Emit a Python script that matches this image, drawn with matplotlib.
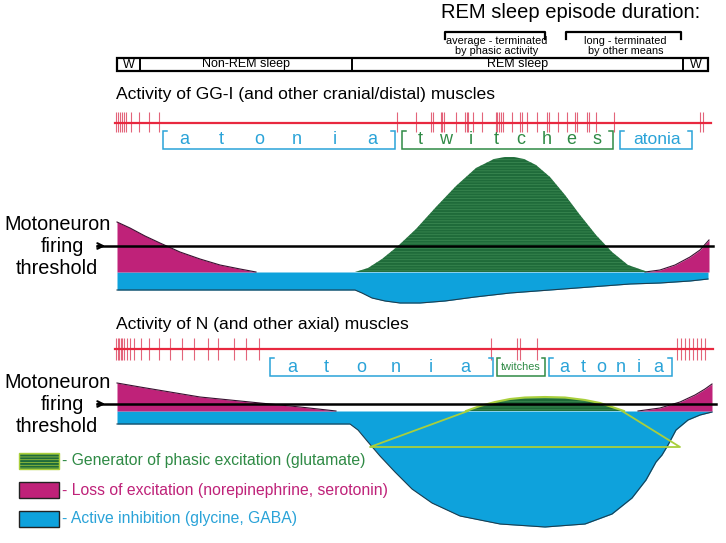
import matplotlib
matplotlib.use("Agg")
import matplotlib.pyplot as plt
from matplotlib import font_manager
import numpy as np

# ---- fonts ----
names = {f.name for f in font_manager.fontManager.ttflist}
NARROW = "Liberation Sans Narrow" if "Liberation Sans Narrow" in names else "Liberation Sans"
plt.rcParams['font.family'] = [NARROW, 'DejaVu Sans']
plt.rcParams['hatch.linewidth'] = 0.5

# ---- colours ----
RED = '#e8283f'
SPIKE = '#e3647a'
MAG = '#bf2279'
BLUE = '#0ea2dc'
GREEN = '#1f6b3a'
GREEN_TXT = '#2f8a45'
LIME = '#a9cf3c'
LABEL_BLUE = '#2aa3d8'

# ---- data (schematic, image pixel units) ----
stage_names = ['W', 'Non-REM sleep', 'REM sleep', 'W']
stage_edges = [117, 140, 352, 683, 708]

gg_spikes = [116, 118, 120, 122, 124, 126, 131, 139, 149, 159,
             397, 416, 431, 433, 441, 442, 444, 456, 465, 467, 468, 473, 482,
             496, 497, 499, 501, 503, 512, 520, 522, 527, 537, 547, 549, 558,
             567, 575, 577, 587, 589, 596, 614, 700, 703]
n_spikes = [116, 117.5, 119, 120.5, 122, 124, 127, 130, 134, 141, 149, 159,
            170, 182, 194, 208, 218, 234, 246, 259,
            491, 517, 520, 537,
            677, 681, 685, 689, 693, 697, 701, 705]

# GG-I curves
gg_mag_left_x = [117, 130, 145, 160, 180, 200, 220, 240, 256]
gg_mag_left_y = [222, 228, 236, 243, 252, 259, 265, 269, 272]
gg_mag_right_x = [645, 660, 675, 690, 700, 709]
gg_mag_right_y = [272, 270, 265, 257, 250, 240]
gg_green_x = [355, 368, 382, 398, 416, 436, 456, 476, 494, 505, 514, 524,
              536, 550, 565, 580, 596, 612, 628, 648]
gg_green_y = [272, 268, 259, 246, 229, 207, 186, 168, 159, 157, 157, 159,
              165, 177, 195, 215, 235, 252, 265, 272]
gg_blue_bot_x = [117, 355, 362, 372, 385, 400, 420, 445, 475, 510, 550, 590,
                 630, 660, 690, 708]
gg_blue_bot_y = [290, 290, 293, 298, 301, 303, 303, 301, 297, 293, 290, 287,
                 284, 283, 281, 279]

# N curves
n_mag_left_x = [117, 140, 170, 200, 230, 270, 300, 336]
n_mag_left_y = [383, 387, 392, 397, 400, 404, 407, 411]
n_mag_right_x = [638, 660, 680, 695, 705, 712]
n_mag_right_y = [411, 408, 402, 395, 389, 384]
n_green_x = [466, 480, 495, 510, 525, 545, 565, 585, 600, 612, 624]
n_green_y = [411, 406, 402, 399, 397.5, 397, 397.5, 400, 403, 407, 411]
n_blue_bot_x = [117, 350, 358, 368, 380, 395, 412, 432, 460, 500, 545, 585,
                612, 632, 646, 656, 662, 668, 676, 688, 700, 712]
n_blue_bot_y = [424, 424, 430, 442, 456, 472, 489, 503, 516, 524, 527, 524,
                514, 498, 480, 462, 455, 445, 430, 420, 415, 412]
tri_x = [468, 370, 680, 622]
tri_y = [411, 447, 447, 411]

legend_labels = ['- Generator of phasic excitation (glutamate)',
                 '- Loss of excitation (norepinephrine, serotonin)',
                 '- Active inhibition (glycine, GABA)']

# ---- figure ----
fig = plt.figure(figsize=(7.26, 5.43), dpi=100)
ax = fig.add_axes([0, 0, 1, 1])
ax.set_xlim(0, 726)
ax.set_ylim(543, 0)
ax.axis('off')


def bracket(x0, x1, ytop, ybot, color, tick=4):
    ax.plot([x0 + tick, x0, x0, x1, x1, x1 - tick],
            [ytop, ytop, ybot, ybot, ytop, ytop], color=color, lw=1.1,
            solid_joinstyle='miter')


def spaced(word, x0, x1, y, color, size):
    xs = np.linspace(x0, x1, len(word))
    for ch, xx in zip(word, xs):
        ax.text(xx, y, ch, color=color, fontsize=size, ha='center', va='center')


# header
ax.text(571, 13, 'REM sleep episode duration:', fontsize=14.5, ha='center', va='center')
for (x0, x1, l1, l2) in [(445, 545, 'average - terminated', 'by phasic activity'),
                         (566, 681, 'long - terminated', 'by other means')]:
    ax.plot([x0, x0, x1, x1], [39, 32, 32, 39], color='black', lw=1.6)
    ax.text((x0 + x1) / 2 + 2, 41, l1, fontsize=7.8, ha='center', va='center')
    ax.text((x0 + x1) / 2 + 2, 51, l2, fontsize=7.8, ha='center', va='center')

# stage bar
ax.add_patch(plt.Rectangle((stage_edges[0], 57.5), stage_edges[-1] - stage_edges[0], 13.5,
                           fill=False, ec='black', lw=1.6))
for e in stage_edges[1:-1]:
    ax.plot([e, e], [57.5, 71], color='black', lw=1.4)
for i, nm in enumerate(stage_names):
    ax.text((stage_edges[i] + stage_edges[i + 1]) / 2, 64.5, nm, fontsize=9,
            ha='center', va='center')

# ---- GG-I section ----
ax.text(116, 95, 'Activity of GG-I (and other cranial/distal) muscles', fontsize=12.6,
        va='center')
ax.plot([115, 711], [123, 123], color=RED, lw=1.6, zorder=3)
ax.vlines(gg_spikes, 112, 132, color=SPIKE, lw=0.8)

bracket(163, 395, 131, 149, LABEL_BLUE)
spaced('atonia', 184, 372, 139, LABEL_BLUE, 13)
bracket(402, 613, 131, 149, GREEN_TXT)
spaced('twitches', 420, 597, 139, GREEN_TXT, 13)
bracket(620, 692, 131, 149, LABEL_BLUE)
ax.text(657, 139, 'atonia', color=LABEL_BLUE, fontsize=12.5, ha='center', va='center')

# blue band
ax.fill_between(gg_blue_bot_x, 272, gg_blue_bot_y, color=BLUE, lw=0, zorder=2)
ax.plot(gg_blue_bot_x, gg_blue_bot_y, color='#1c3d4f', lw=0.8, zorder=2)
# magenta
ax.fill_between(gg_mag_left_x, gg_mag_left_y, 272, color=MAG, lw=0, zorder=2)
ax.plot(gg_mag_left_x, gg_mag_left_y, color='#3a1030', lw=0.8, zorder=2)
ax.fill_between(gg_mag_right_x, gg_mag_right_y, 272, color=MAG, lw=0, zorder=2)
ax.plot(gg_mag_right_x, gg_mag_right_y, color='#3a1030', lw=0.8, zorder=2)
# green
ax.fill_between(gg_green_x, gg_green_y, 272, facecolor=GREEN, edgecolor='#3e8c55',
                hatch='------', lw=0, zorder=2)


def threshold_label(y_mid):
    ax.text(58, y_mid - 22, 'Motoneuron', fontsize=14.3, ha='center', va='center')
    ax.text(62, y_mid, 'firing', fontsize=14.3, ha='center', va='center')
    ax.text(57, y_mid + 22, 'threshold', fontsize=14.3, ha='center', va='center')
    ax.annotate('', xy=(108, y_mid), xytext=(95, y_mid),
                arrowprops=dict(arrowstyle='->', color='black', lw=1.5))


# threshold 1
threshold_label(246)
ax.plot([97, 713], [246, 246], color='black', lw=1.8, zorder=4)

# ---- N section ----
ax.text(116, 324, 'Activity of N (and other axial) muscles', fontsize=12.6, va='center')
ax.plot([115, 713], [349, 349], color=RED, lw=1.6, zorder=3)
ax.vlines(n_spikes, 338, 360, color=SPIKE, lw=0.8)

bracket(270, 493, 358, 376, LABEL_BLUE)
spaced('atonia', 292, 465, 367, LABEL_BLUE, 13)
bracket(497, 545, 358, 376, GREEN_TXT, tick=3)
ax.text(521, 367, 'twitches', color=GREEN_TXT, fontsize=7.8, ha='center', va='center')
bracket(549, 672, 358, 376, LABEL_BLUE)
spaced('atonia', 564, 658, 367, LABEL_BLUE, 13)

ax.fill_between(n_blue_bot_x, 411, n_blue_bot_y, color=BLUE, lw=0, zorder=2)
ax.plot(n_blue_bot_x, n_blue_bot_y, color='#1c3d4f', lw=0.8, zorder=2)
ax.fill_between(n_mag_left_x, n_mag_left_y, 411, color=MAG, lw=0, zorder=2)
ax.plot(n_mag_left_x, n_mag_left_y, color='#3a1030', lw=0.8, zorder=2)
ax.fill_between(n_mag_right_x, n_mag_right_y, 411, color=MAG, lw=0, zorder=2)
ax.plot(n_mag_right_x, n_mag_right_y, color='#3a1030', lw=0.8, zorder=2)
ax.fill_between(n_green_x, n_green_y, 411, facecolor=GREEN, edgecolor='#3e8c55',
                hatch='------', lw=0, zorder=2)
ax.plot(n_green_x, n_green_y, color=LIME, lw=1.5, zorder=3)
ax.plot(tri_x, tri_y, color=LIME, lw=1.3, zorder=3)

threshold_label(404)
ax.plot([97, 716], [404, 404], color='black', lw=1.8, zorder=4)

# ---- legend ----
sw = [(453, dict(facecolor=GREEN, edgecolor=LIME, hatch='------')),
      (482, dict(facecolor=MAG, edgecolor='#222222')),
      (511, dict(facecolor=BLUE, edgecolor='#222222'))]
txt_cols = [GREEN_TXT, MAG, LABEL_BLUE]
for (y0, kw), lab, c in zip(sw, legend_labels, txt_cols):
    ax.add_patch(plt.Rectangle((19, y0), 40, 16, lw=1.0, **kw))
    ax.text(62, y0 + 8, lab, color=c, fontsize=11.3, va='center')

fig.savefig('out.png', dpi=100)
